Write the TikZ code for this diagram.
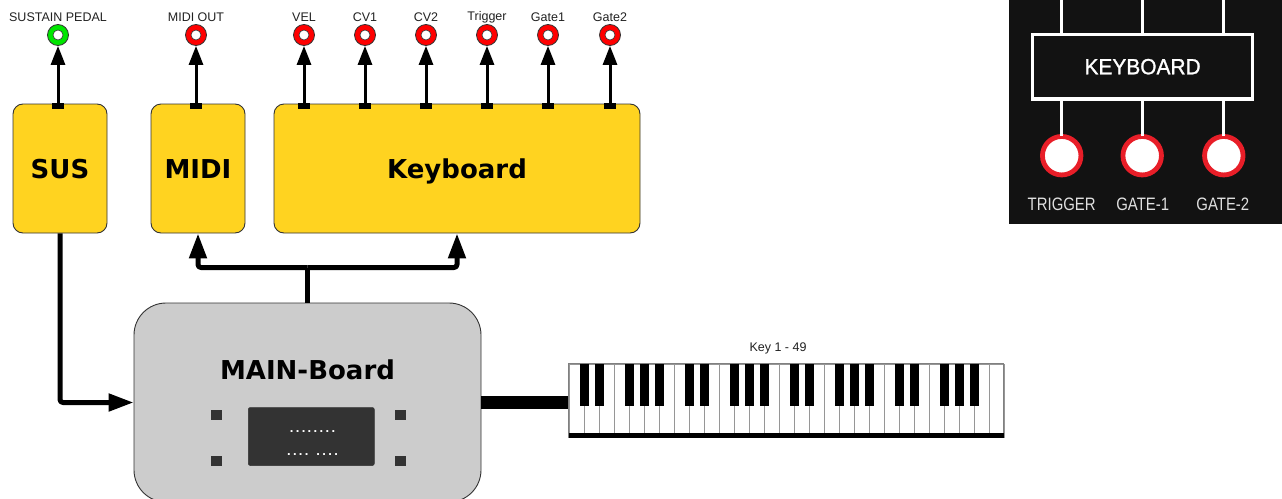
\documentclass[tikz,border=0pt]{standalone}
\usepackage{fontspec}
\setmainfont{Liberation Sans}
\newfontfamily\heavyfont{DejaVu Sans}
\newfontfamily\panelfont[FakeStretch=0.83]{Liberation Sans}
\newfontfamily\paneltitlefont[FakeStretch=0.95,FakeBold=1.2]{Liberation Sans}
\newfontfamily\dotfont[LetterSpace=18]{Liberation Sans}
\usetikzlibrary{arrows.meta}
\definecolor{gold}{RGB}{255,211,32}
\definecolor{edge}{RGB}{51,51,51}
\definecolor{boardgray}{RGB}{204,204,204}
\definecolor{darkpanel}{RGB}{51,51,51}
\definecolor{jred}{RGB}{255,0,0}
\definecolor{jgreen}{RGB}{0,230,0}
\definecolor{lbltext}{RGB}{34,34,34}
\definecolor{panelbg}{RGB}{18,18,18}
\definecolor{ringred}{RGB}{232,30,40}
\definecolor{keygray}{RGB}{150,150,150}
\begin{document}
\begin{tikzpicture}[x=1pt,y=-1pt,
  modbox/.style={draw=edge, line width=0.9pt, fill=gold, rounded corners=10pt, inner sep=0pt,
    text height=19pt, text depth=0pt, font=\heavyfont\bfseries\fontsize{26}{30}\selectfont},
  jack/.style={circle, draw=edge, line width=0.8pt, minimum size=21pt, inner sep=0pt},
  jacklbl/.style={inner sep=0pt, text=lbltext, font=\fontsize{12.5}{14}\selectfont},
  tab/.style={fill=black, minimum width=12pt, minimum height=6pt, inner sep=0pt},
  uparrow/.style={line width=3pt, -{Triangle[width=14pt,length=19pt]}},
  bus/.style={line width=5pt, line join=round, rounded corners=3pt},
  busarrow/.style={bus, -{Triangle[width=17pt,length=25pt]}},
  led/.style={fill=darkpanel, minimum size=10.5pt, inner sep=0pt},
  pline/.style={draw=white, line width=3.3pt},
  socket/.style={circle, draw=ringred, fill=white, line width=4.8pt, minimum size=38.5pt, inner sep=0pt},
  socklbl/.style={inner sep=0pt, text={rgb,255:red,224;green,224;blue,224}, font=\panelfont\fontsize{18}{20}\selectfont}
]
\clip (0,0) rectangle (1282,498);
\fill[white] (0,0) rectangle (1282,498);

% module boxes
\node[modbox, minimum width=94pt, minimum height=129pt] (sus) at (60,168.5) {SUS};
\node[modbox, minimum width=94pt, minimum height=129pt] (midi) at (198,168.5) {MIDI};
\node[modbox, minimum width=366pt, minimum height=129pt] (kbd) at (457,168.5) {Keyboard};

% output jacks, tabs and arrows
\foreach \n/\x/\c/\t in {sus/58/jgreen/SUSTAIN PEDAL, mid/196/jred/MIDI OUT,
    vel/304/jred/VEL, cva/365/jred/CV1, cvb/426/jred/CV2, trg/487/jred/Trigger,
    gta/548/jred/Gate1, gtb/610/jred/Gate2}{
  \node[jack, fill=\c] (j\n) at (\x,35) {};
  \fill[white, draw=edge, line width=0.6pt] (j\n.center) circle (5);
  \node[jacklbl] (l\n) at (\x,17) {\t};
  \node[tab] (t\n) at (\x,106) {};
  \draw[uparrow] (t\n.north) -- (j\n.south);
}

% main board
\node[draw=edge, line width=0.9pt, fill=boardgray, rounded corners=32pt,
  minimum width=347pt, minimum height=199pt, inner sep=0pt] (main) at (307.5,402.5) {};
\node[inner sep=0pt, font=\heavyfont\bfseries\fontsize{26}{30}\selectfont] (maintitle) at (307.5,370) {MAIN-Board};
\node[fill=darkpanel, draw=edge, line width=0.5pt, rounded corners=2pt,
  minimum width=126pt, minimum height=58pt, inner sep=0pt] (display) at (311.3,436.5) {};
\node[anchor=base, inner sep=0pt, text=white, font=\dotfont\bfseries\fontsize{13}{15}\selectfont] (dotsa) at (312.5,432) {........};
\node[anchor=base, inner sep=0pt, text=white, font=\dotfont\bfseries\fontsize{13}{15}\selectfont] (dotsb) at (312.5,455) {.... ....};
\node[led] (leda) at (216.3,415) {};
\node[led] (ledb) at (216.3,461) {};
\node[led] (ledc) at (400.3,415) {};
\node[led] (ledd) at (400.3,461) {};

% connections from the main board
\draw[bus] (main.north) -- (main.north |- 0,267.5) coordinate (hub);
\draw[busarrow] (hub) -| (midi.south);
\draw[busarrow] (hub) -| (kbd.south);
\draw[busarrow] (sus.south) |- (main.west);

% keyboard keys
\node[minimum width=434pt, minimum height=73pt, inner sep=0pt] (piano) at (786,400.5) {};
\draw[line width=13pt] (main.east) -- (piano.west |- main.east);
\foreach \k in {0,...,28}
  \draw[draw=keygray, line width=0.6pt, fill=white] ({569+15*\k},364) rectangle ++(15,73);
\draw[draw=gray, line width=0.8pt] (piano.north west) rectangle (piano.south east);
\foreach \o in {0,...,3}
  \foreach \b in {1,2,4,5,6}
    \fill[black] ({569+105*\o+15*\b-4.5},364) rectangle ++(9,42);
\fill[black] (569,432.5) rectangle (1003.5,437.5);
\node[jacklbl] (pianolbl) at (778,348.5) {Key 1 - 49};

% front panel detail
\fill[panelbg] (1009,0) rectangle (1282,224);
\node[pline, minimum width=220pt, minimum height=64.7pt, inner sep=0pt,
  text=white, font=\paneltitlefont\fontsize{22}{24}\selectfont] (kpanel) at (1142.6,66.7) {\raisebox{-1.5pt}{KEYBOARD}};
\foreach \n/\x in {a/1061.7, b/1142.2, c/1223.8}{
  \coordinate (top\n) at (\x,0);
  \draw[pline] (top\n) -- (top\n |- kpanel.north);
  \node[socket] (s\n) at (\x,155.7) {};
  \draw[pline] (s\n.north |- kpanel.south) -- ([yshift=-2pt]s\n.north);
}
\node[socklbl] (sla) at (1061.7,204.3) {TRIGGER};
\node[socklbl] (slb) at (1142.7,204.3) {GATE-1};
\node[socklbl] (slc) at (1222.8,204.3) {GATE-2};
\end{tikzpicture}
\end{document}
